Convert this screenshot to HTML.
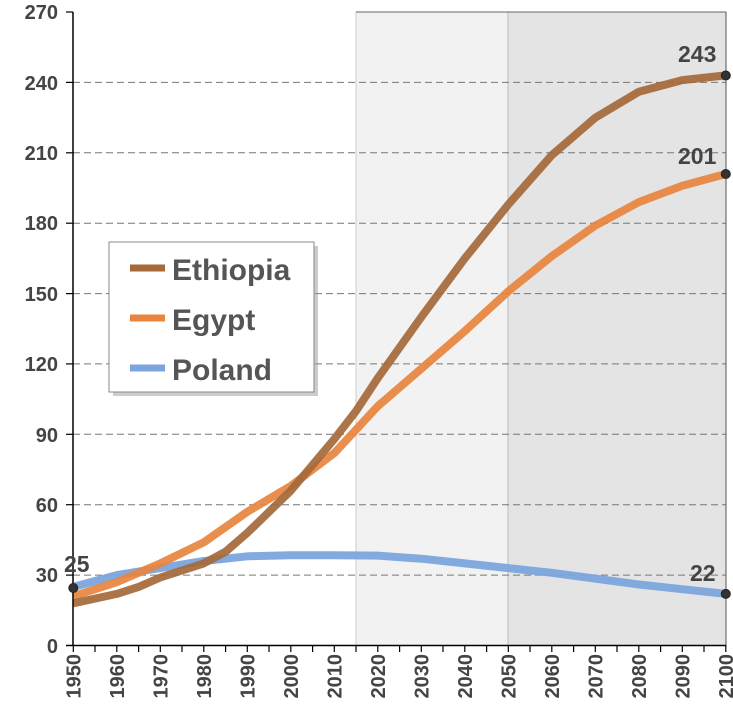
<!DOCTYPE html><html><head><style>body{margin:0;background:#fff}svg{display:block}text{font-family:"Liberation Sans",sans-serif;font-weight:bold;fill:#444}</style></head><body>
<svg width="733" height="707" viewBox="0 0 733 707">
<rect x="356" y="12" width="152" height="633.5" fill="#f2f2f2" stroke="#ccc" stroke-width="1"/>
<rect x="508" y="12" width="218" height="633.5" fill="#e4e4e4" stroke="#bbb" stroke-width="1"/>
<line x1="356" y1="12" x2="726" y2="12" stroke="#666" stroke-width="1"/>
<g stroke="#777" stroke-width="1" stroke-dasharray="7,4">
<line x1="73" x2="726" y1="575.1" y2="575.1"/><line x1="73" x2="726" y1="504.7" y2="504.7"/><line x1="73" x2="726" y1="434.3" y2="434.3"/><line x1="73" x2="726" y1="363.9" y2="363.9"/><line x1="73" x2="726" y1="293.6" y2="293.6"/><line x1="73" x2="726" y1="223.2" y2="223.2"/><line x1="73" x2="726" y1="152.8" y2="152.8"/><line x1="73" x2="726" y1="82.4" y2="82.4"/>
</g>
<line x1="726" y1="12" x2="726" y2="645.5" stroke="#555"/>
<g fill="none" stroke-width="8" stroke-linejoin="round" stroke-linecap="butt">
<polyline stroke="#7ba5dc" stroke-opacity="0.95" points="73.3,586.9 116.8,575.1 160.3,568.1 203.8,561 247.3,556.3 290.8,555.2 334.3,555.2 377.8,555.6 421.3,558.7 464.8,563.4 508.3,568.1 551.8,572.8 595.3,578.6 638.8,584.5 682.3,589.2 725.8,593.9"/>
<polyline stroke="#e8843e" stroke-opacity="0.92" points="73.3,596.2 116.8,582.2 160.3,563.4 203.8,542.3 247.3,511.8 290.8,486 334.3,453.1 377.8,406.2 421.3,368.7 464.8,331.1 508.3,291.3 551.8,256.1 595.3,225.6 638.8,202.1 682.3,185.7 725.8,174"/>
<polyline stroke="#a5693a" stroke-opacity="0.92" points="73.3,603.3 116.8,593.9 138.6,586.9 160.3,577.5 203.8,563.4 225.6,551.7 247.3,532.9 290.8,490.7 334.3,439.1 356.1,410.9 377.8,378.1 421.3,317.1 464.8,258.4 508.3,204.5 551.8,155.2 595.3,117.7 638.8,91.8 682.3,80.1 725.8,75.4"/>
</g>
<line x1="73" y1="12" x2="73" y2="646" stroke="#000" stroke-width="1.5"/>
<line x1="66" y1="645.5" x2="726" y2="645.5" stroke="#000" stroke-width="1.5"/>
<g stroke="#000" stroke-width="1.2">
<line x1="66" x2="73" y1="575.1" y2="575.1"/><line x1="66" x2="73" y1="504.7" y2="504.7"/><line x1="66" x2="73" y1="434.3" y2="434.3"/><line x1="66" x2="73" y1="363.9" y2="363.9"/><line x1="66" x2="73" y1="293.6" y2="293.6"/><line x1="66" x2="73" y1="223.2" y2="223.2"/><line x1="66" x2="73" y1="152.8" y2="152.8"/><line x1="66" x2="73" y1="82.4" y2="82.4"/><line x1="66" x2="73" y1="12" y2="12"/>
<path d="M73.3 645v7M95 645v7M116.8 645v7M138.6 645v7M160.3 645v7M182 645v7M203.8 645v7M225.6 645v7M247.3 645v7M269 645v7M290.8 645v7M312.6 645v7M334.3 645v7M356 645v7M377.8 645v7M399.6 645v7M421.3 645v7M443 645v7M464.8 645v7M486.6 645v7M508.3 645v7M530 645v7M551.8 645v7M573.6 645v7M595.3 645v7M617 645v7M638.8 645v7M660.6 645v7M682.3 645v7M704 645v7M725.8 645v7"/>
</g>
<g font-size="20" text-anchor="end">
<text x="58" y="653">0</text><text x="58" y="582">30</text><text x="58" y="512">60</text><text x="58" y="442">90</text><text x="58" y="371">120</text><text x="58" y="301">150</text><text x="58" y="230">180</text><text x="58" y="160">210</text><text x="58" y="90">240</text><text x="58" y="19">270</text>
</g>
<g font-size="20" text-anchor="end">
<text transform="translate(80.5,654) rotate(-90)">1950</text><text transform="translate(124,654) rotate(-90)">1960</text><text transform="translate(167.5,654) rotate(-90)">1970</text><text transform="translate(211,654) rotate(-90)">1980</text><text transform="translate(254.5,654) rotate(-90)">1990</text><text transform="translate(298,654) rotate(-90)">2000</text><text transform="translate(341.5,654) rotate(-90)">2010</text><text transform="translate(385,654) rotate(-90)">2020</text><text transform="translate(428.5,654) rotate(-90)">2030</text><text transform="translate(472,654) rotate(-90)">2040</text><text transform="translate(515.5,654) rotate(-90)">2050</text><text transform="translate(559,654) rotate(-90)">2060</text><text transform="translate(602.5,654) rotate(-90)">2070</text><text transform="translate(646,654) rotate(-90)">2080</text><text transform="translate(689.5,654) rotate(-90)">2090</text><text transform="translate(733,654) rotate(-90)">2100</text>
</g>
<g fill="#333" stroke="#222"><circle cx="73.3" cy="588" r="4.5"/><circle cx="725.8" cy="75.5" r="4.5"/><circle cx="725.8" cy="174" r="4.5"/><circle cx="725.8" cy="593.9" r="4.5"/></g>
<g font-size="23"><text x="64" y="572">25</text><text x="678" y="62">243</text><text x="678" y="164">201</text><text x="690" y="581">22</text></g>
<rect x="113" y="246" width="205" height="150" fill="#999" opacity="0.5"/>
<rect x="109" y="242" width="205" height="150" fill="#fff" stroke="#888"/>
<g stroke-width="7"><line x1="130" x2="165" y1="268" y2="268" stroke="#a5693a"/><line x1="130" x2="165" y1="318" y2="318" stroke="#e8843e"/><line x1="130" x2="165" y1="368" y2="368" stroke="#7ba5dc"/></g>
<g font-size="30"><text x="172" y="280" style="fill:#555">Ethiopia</text><text x="172" y="330" style="fill:#555">Egypt</text><text x="172" y="380" style="fill:#555">Poland</text></g>
</svg></body></html>
